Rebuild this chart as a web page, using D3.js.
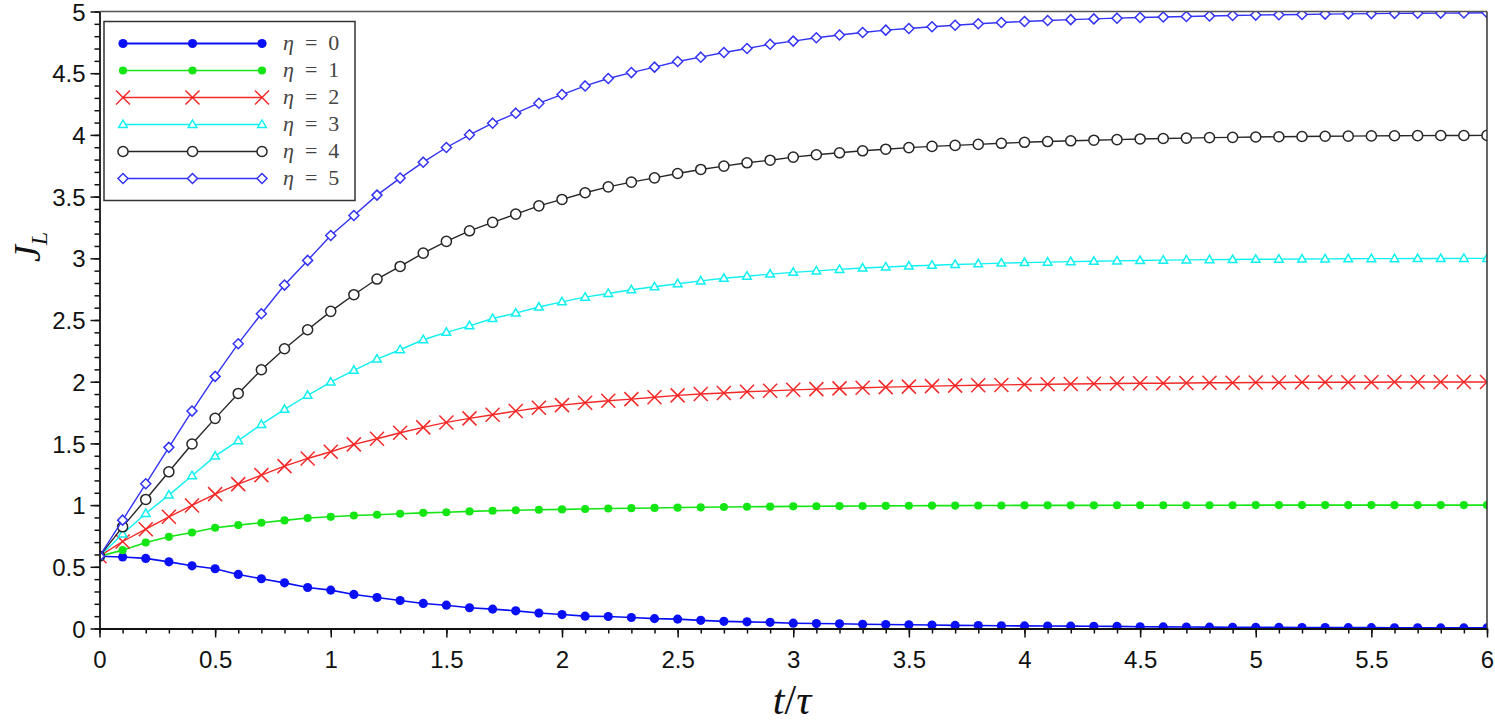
<!DOCTYPE html>
<html>
<head>
<meta charset="utf-8">
<script src="https://cdn.jsdelivr.net/npm/d3@7"></script>
<style>
  body { margin: 0; background: #fff; }
  .tick text { font-family: "Liberation Sans", Arial, sans-serif; font-size: 24px; fill: #111; }
  .math { font-family: "Liberation Serif", "DejaVu Serif", serif; }
</style>
</head>
<body>
<svg id="canvas"></svg>
<script>
// time grid t/tau
let tVals = [0,0.1,0.2,0.3,0.4,0.5,0.6,0.7,0.8,0.9,1,1.1,1.2,1.3,1.4,1.5,1.6,1.7,1.8,1.9,2,2.1,2.2,2.3,2.4,2.5,2.6,2.7,2.8,2.9,3,
  3.1,3.2,3.3,3.4,3.5,3.6,3.7,3.8,3.9,4,4.1,4.2,4.3,4.4,4.5,4.6,4.7,4.8,4.9,5,5.1,5.2,5.3,5.4,5.5,5.6,5.7,5.8,5.9,6];

// J_L for each eta
let eta0 = [0.586,0.58,0.568,0.54,0.508,0.484,0.438,0.403,0.37,0.332,0.311,0.276,0.251,0.227,0.203,0.189,0.168,0.157,0.143,0.125,0.113,
  0.1,0.097,0.089,0.08,0.076,0.066,0.058,0.054,0.05,0.043,0.04,0.038,0.034,0.032,0.03,0.028,0.025,0.024,0.022,0.021,
  0.02,0.019,0.018,0.017,0.014,0.013,0.012,0.011,0.01,0.009,0.009,0.008,0.008,0.007,0.007,0.006,0.006,0.005,0.005,0.005];
let eta1 = [0.586,0.635,0.697,0.743,0.778,0.816,0.838,0.857,0.876,0.895,0.905,0.916,0.922,0.93,0.937,0.942,0.949,0.954,0.958,0.962,0.965,
  0.968,0.972,0.975,0.977,0.98,0.982,0.985,0.987,0.988,0.99,0.991,0.992,0.993,0.994,0.995,0.996,0.996,0.997,0.997,0.998,
  0.998,0.998,0.998,0.999,0.999,0.999,0.999,0.999,0.999,1,1,1,1,1,1,1,1,1,1,1];
let eta2 = [0.586,0.705,0.805,0.905,0.997,1.089,1.17,1.243,1.316,1.378,1.432,1.492,1.538,1.586,1.63,1.67,1.703,1.732,1.762,1.789,1.81,
  1.829,1.846,1.859,1.874,1.889,1.9,1.909,1.918,1.926,1.934,1.94,1.946,1.951,1.956,1.96,1.964,1.968,1.971,1.974,1.977,
  1.979,1.981,1.983,1.985,1.987,1.988,1.99,1.991,1.992,1.993,1.994,1.995,1.995,1.996,1.996,1.997,1.997,1.998,1.998,1.998];
let eta3 = [0.586,0.765,0.932,1.081,1.238,1.397,1.522,1.654,1.776,1.89,1.997,2.092,2.183,2.259,2.34,2.4,2.453,2.512,2.556,2.605,2.647,
  2.685,2.715,2.745,2.769,2.794,2.817,2.838,2.855,2.872,2.886,2.898,2.91,2.921,2.93,2.937,2.944,2.95,2.955,2.961,2.965,
  2.969,2.973,2.976,2.979,2.982,2.985,2.987,2.989,2.99,2.992,2.993,2.994,2.995,2.996,2.997,2.997,2.998,2.998,2.999,2.999];
let eta4 = [0.586,0.824,1.046,1.27,1.495,1.703,1.905,2.097,2.267,2.421,2.57,2.705,2.832,2.934,3.042,3.137,3.223,3.291,3.358,3.425,3.477,
  3.531,3.579,3.617,3.652,3.687,3.72,3.747,3.774,3.795,3.82,3.839,3.855,3.871,3.884,3.897,3.907,3.915,3.923,3.932,3.94,
  3.946,3.952,3.957,3.962,3.967,3.971,3.974,3.978,3.98,3.983,3.985,3.987,3.989,3.99,3.992,3.993,3.994,3.995,3.995,3.996];
let eta5 = [0.586,0.878,1.173,1.468,1.762,2.043,2.308,2.551,2.783,2.983,3.185,3.347,3.512,3.65,3.779,3.898,4.001,4.095,4.176,4.257,4.327,
  4.397,4.457,4.505,4.549,4.595,4.63,4.668,4.7,4.735,4.76,4.787,4.81,4.83,4.849,4.862,4.876,4.889,4.901,4.911,4.919,
  4.927,4.934,4.94,4.946,4.951,4.956,4.96,4.964,4.968,4.971,4.974,4.976,4.979,4.981,4.983,4.985,4.986,4.987,4.988,4.99];

let etaLabels = ["0","1","2","3","4","5"];
let xMajor = [0,0.5,1,1.5,2,2.5,3,3.5,4,4.5,5,5.5,6];
let yMajor = [0,0.5,1,1.5,2,2.5,3,3.5,4,4.5,5];

var width = 1495, height = 727;
var margin = {top: 11.5, left: 99.5, right: 8, bottom: 98.5};
var pw = width - margin.left - margin.right,
    ph = height - margin.top - margin.bottom;

let svg = d3.select('#canvas')
    .attr('width', width)
    .attr('height', height);

let canvas = svg.append('g')
    .attr('transform', 'translate(' + margin.left + ',' + margin.top + ')');

var x = d3.scaleLinear().domain([0, 6]).range([0, pw]);
var y = d3.scaleLinear().domain([0, 5]).range([ph, 0]);

// marker shapes, scilab style
var markers = {
  dot:      {d: d3.symbol().type(d3.symbolCircle).size(66)(), fill: true},
  dotSmall: {d: d3.symbol().type(d3.symbolCircle).size(52)(), fill: true},
  cross:    {d: "M-7,-7L7,7M-7,7L7,-7", fill: false},
  tri:      {d: "M0,-4.5L4.3,3L-4.3,3Z", fill: false},
  ring:     {d: d3.symbol().type(d3.symbolCircle).size(80)(), fill: false},
  diamond:  {d: "M0,-5L5,0L0,5L-5,0Z", fill: false}
};

let series = [
  {vals: eta0, color: "#0a10f5", mk: "dot", lw: 1.6},
  {vals: eta1, color: "#14e614", mk: "dotSmall", lw: 1.6},
  {vals: eta2, color: "#f52828", mk: "cross", lw: 1.4},
  {vals: eta3, color: "#10f0f0", mk: "tri", lw: 1.4},
  {vals: eta4, color: "#262626", mk: "ring", lw: 1.4},
  {vals: eta5, color: "#3333f5", mk: "diamond", lw: 1.4}
];

function drawMarker(sel, s) {
  var m = markers[s.mk];
  sel.attr('d', m.d)
     .attr('fill', m.fill ? s.color : (s.mk == 'cross' ? 'none' : '#fff'))
     .attr('stroke', s.color)
     .attr('stroke-width', m.fill ? 0 : 1.5);
}

function drawAxes() {
  // frame top & right
  canvas.append('line').attr('x1', 0).attr('x2', pw).attr('y1', 0).attr('y2', 0)
    .attr('stroke', '#555').attr('stroke-width', 1.5);
  canvas.append('line').attr('x1', pw).attr('x2', pw).attr('y1', 0).attr('y2', ph)
    .attr('stroke', '#333').attr('stroke-width', 1.5);

  // minor ticks
  canvas.append('g').attr('transform', 'translate(0,' + ph + ')')
    .call(d3.axisBottom(x).tickValues(tVals).tickSize(5).tickFormat(''))
    .call(g => g.select('.domain').remove());
  canvas.append('g')
    .call(d3.axisLeft(y).ticks(50).tickSize(5).tickFormat(''))
    .call(g => g.select('.domain').remove());

  // major ticks
  var xa = canvas.append('g').attr('transform', 'translate(0,' + ph + ')')
    .call(d3.axisBottom(x).tickValues(xMajor).tickSize(9).tickSizeOuter(0).tickPadding(13).tickFormat(d3.format('~g')));
  var ya = canvas.append('g')
    .call(d3.axisLeft(y).tickValues(yMajor).tickSize(9).tickSizeOuter(0).tickPadding(5).tickFormat(d3.format('~g')));

  canvas.selectAll('.tick line').attr('stroke', '#111').attr('stroke-width', 1.5);
  canvas.selectAll('.domain').attr('stroke', '#111').attr('stroke-width', 1.8);
  ya.selectAll('.tick text').attr('dy', '0.36em');

  var xl = svg.append('text').attr('class', 'math')
    .attr('x', 792).attr('y', 714)
    .attr('text-anchor', 'middle')
    .attr('font-size', 42)
    .attr('fill', '#111');
  xl.append('tspan').attr('font-style', 'italic').text('t');
  xl.append('tspan').text('/');
  xl.append('tspan').attr('font-style', 'italic').text('\u03C4');

  var yl = svg.append('text').attr('class', 'math')
    .attr('transform', 'translate(40,262) rotate(-90)')
    .attr('font-size', 38)
    .attr('font-style', 'italic')
    .attr('fill', '#111');
  yl.append('tspan').text('J');
  yl.append('tspan').attr('font-size', 24).attr('dy', 7).text('L');
}

function drawSeries() {
  svg.append('defs').append('clipPath').attr('id', 'clip')
    .append('rect').attr('width', pw).attr('height', ph);

  var plot = canvas.append('g').attr('clip-path', 'url(#clip)');
  var line = d3.line().x((d, i) => x(tVals[i])).y(d => y(d));

  series.forEach(function(s) {
    var g = plot.append('g');
    g.append('path')
      .attr('d', line(s.vals))
      .attr('fill', 'none')
      .attr('stroke', s.color)
      .attr('stroke-width', s.lw);
    g.selectAll('path.mk')
      .data(s.vals)
      .enter()
      .append('path')
      .attr('class', 'mk')
      .attr('transform', (d, i) => 'translate(' + x(tVals[i]) + ',' + y(d) + ')')
      .call(drawMarker, s);
  });
}

function drawLegend() {
  var lg = svg.append('g').attr('transform', 'translate(104,21.5)');
  lg.append('rect').attr('width', 251).attr('height', 179)
    .attr('fill', '#fff').attr('stroke', '#333').attr('stroke-width', 1.5);

  series.forEach(function(s, i) {
    var yy = 22 + i * 27;
    lg.append('line').attr('x1', 19).attr('x2', 158).attr('y1', yy).attr('y2', yy)
      .attr('stroke', s.color).attr('stroke-width', i == 0 ? 2 : s.lw);
    [19, 88.5, 158].forEach(function(xx) {
      lg.append('path')
        .attr('transform', 'translate(' + xx + ',' + yy + ')')
        .call(drawMarker, s);
    });
    var t = lg.append('text').attr('class', 'math')
      .attr('x', 179).attr('y', yy + 6)
      .attr('font-size', 22)
      .attr('fill', '#444');
    t.append('tspan').attr('font-style', 'italic').text('\u03B7');
    t.append('tspan').text('\u2002=\u2002' + etaLabels[i]);
  });
}

drawSeries();
drawAxes();
drawLegend();
</script>
</body>
</html>
